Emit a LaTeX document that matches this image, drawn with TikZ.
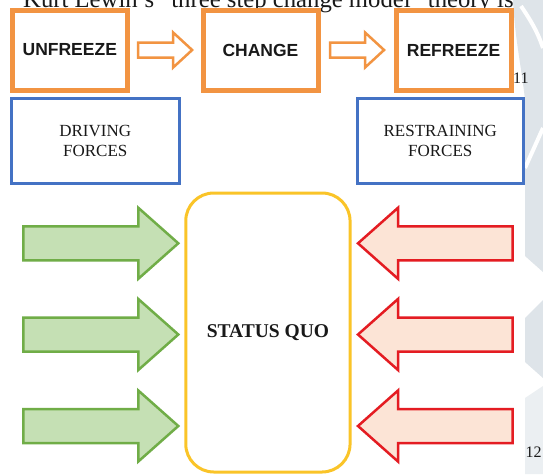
\documentclass[tikz,border=0pt]{standalone}
\usepackage{fontspec}
\setmainfont{Liberation Serif}
\newfontfamily\arialfont{Liberation Sans}
\usetikzlibrary{calc}
\definecolor{orng}{RGB}{242,148,66}
\definecolor{blu}{RGB}{68,114,196}
\definecolor{gold}{RGB}{250,196,40}
\definecolor{grnline}{RGB}{112,173,71}
\definecolor{grnfill}{RGB}{197,224,180}
\definecolor{redline}{RGB}{228,28,34}
\definecolor{redfill}{RGB}{252,228,214}
\definecolor{wmark}{RGB}{222,228,233}
\definecolor{ink}{RGB}{25,25,25}
\tikzset{
  stagebox/.style={draw=orng, line width=5pt, minimum width=115pt, minimum height=80pt, inner sep=0pt,
    font=\arialfont\bfseries\fontsize{17.5}{20}\selectfont, text=ink},
  forcebox/.style={draw=blu, line width=3pt, minimum height=84.7pt, inner sep=0pt, align=center,
    font=\fontsize{17}{20}\selectfont, text=ink},
  quobox/.style={draw=gold, line width=3pt, rounded corners=28pt, minimum width=164.3pt, minimum height=279pt,
    inner sep=0pt, font=\bfseries\fontsize{19.5}{22}\selectfont, text=ink},
  pagenum/.style={anchor=base west, inner sep=0pt, font=\fontsize{16}{18}\selectfont, text=ink},
  hollowarrow/.style={draw=orng, fill=white, line width=2.5pt},
  pusharrow/.style={draw=grnline, fill=grnfill, line width=2.5pt},
  pullarrow/.style={draw=redline, fill=redfill, line width=2.5pt},
  pics/stepright/.style={code={\draw[hollowarrow] (-27,-7.5) -- (8,-7.5) -- (8,-17.5) -- (27,0) -- (8,17.5) -- (8,7.5) -- (-27,7.5) -- cycle;}},
  pics/pushright/.style={code={\draw[pusharrow] (-155,-17) -- (-40,-17) -- (-40,-35.5) -- (0,0) -- (-40,35.5) -- (-40,17) -- (-155,17) -- cycle;}},
  pics/pullleft/.style={code={\draw[pullarrow] (154.5,-17) -- (40,-17) -- (40,-35.5) -- (0,0) -- (40,35.5) -- (40,17) -- (154.5,17) -- cycle;}},
}
\begin{document}
\begin{tikzpicture}[x=1pt,y=-1pt]
\useasboundingbox (0,0) rectangle (543,474);
\clip (0,0) rectangle (543,474);
\fill[white] (0,0) rectangle (543,474);
% faint watermark
\fill[wmark] (513,0) -- (543,0) -- (543,272) -- (525,256) -- (525,100) .. controls (522,70) and (515,40) .. (513,0) -- cycle;
\draw[white, line width=4pt] (521,6) .. controls (529,18) and (537,30) .. (543,48);
\draw[white, line width=4pt] (525,168) -- (543,128);
\fill[wmark] (525,318) -- (543,300) -- (543,378) -- (525,362) -- cycle;
\fill[wmark!60!white] (525,398) -- (543,386) -- (543,474) -- (525,474) -- cycle;
% cut-off heading
\node[anchor=base west, inner sep=0pt, font=\fontsize{24.7}{28}\selectfont, text=ink] (title) at (23,7.5)
  {Kurt Lewin’s “three step change model” theory is};
% stages
\node[stagebox] (unf) at (69.8,50) {UNFREEZE};
\node[stagebox] (chg) at (260.5,50) {CHANGE};
\node[stagebox] (ref) at (453.6,50) {REFREEZE};
\pic at ($(unf.east)!0.5!(chg.west)$) {stepright};
\pic at ($(chg.east)!0.5!(ref.west)$) {stepright};
\node[pagenum] (p11) at (513,83.3) {11};
% forces
\node[forcebox, minimum width=168.5pt] (drv) at (95.25,141.2) {DRIVING\\FORCES};
\node[forcebox, minimum width=165.5pt] (rst) at (440.25,141.2) {RESTRAINING\\FORCES};
\node[quobox] (sq) at (267.9,332.5) {STATUS QUO};
\foreach \r/\yy in {1/243.3,2/334.5,3/426}{
  \coordinate (gt\r) at (178.3,\yy);
  \coordinate (rt\r) at (358,\yy);
  \pic at (gt\r) {pushright};
  \pic at (rt\r) {pullleft};
}
\node[pagenum] (p12) at (525.5,457) {12};
\end{tikzpicture}
\end{document}
